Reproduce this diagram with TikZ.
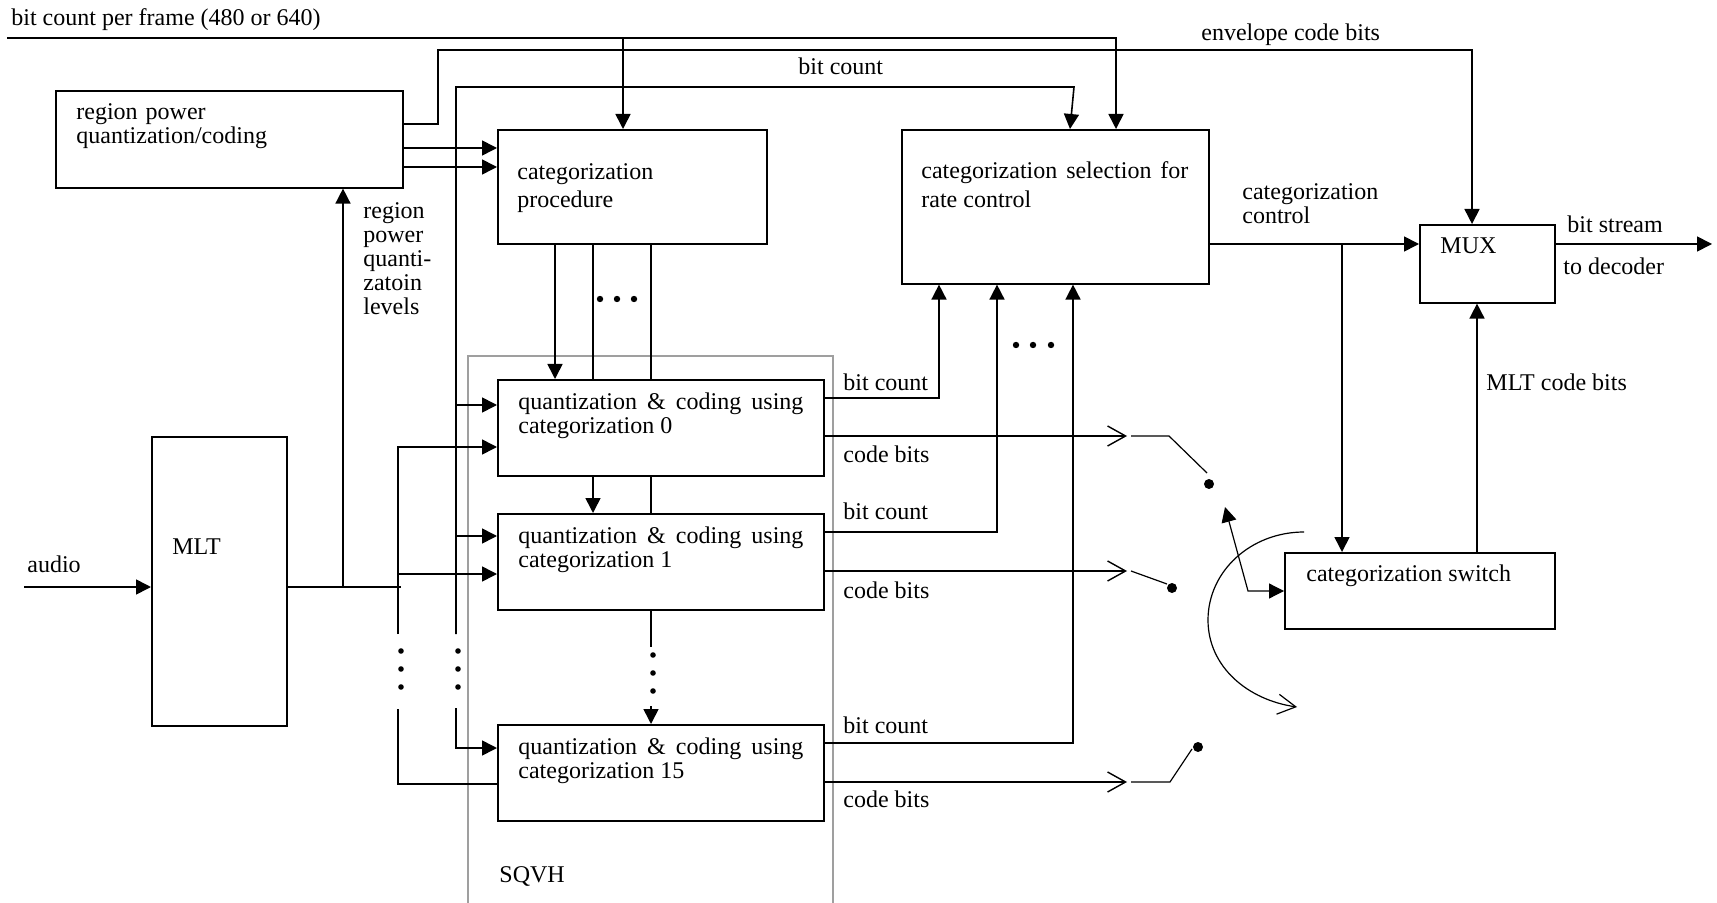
\documentclass[tikz,border=0pt]{standalone}
\usepackage{fontspec}
\setmainfont{Liberation Serif}
\usetikzlibrary{arrows.meta,positioning}
\tikzset{
    box/.style={rectangle, draw, line width=0.8pt, anchor=north west, inner sep=0pt},
    txt/.style={anchor=base west, inner sep=0pt, align=left, font=\fontsize{12}{12}\selectfont},
    mtxt/.style={txt, text width=#1},
    jtxt/.style={txt, align=justify, text width=#1},
    wire/.style={line width=0.8pt},
    arrow/.style={-{Triangle[length=7.5pt,width=7.5pt]}, line width=0.8pt},
    darrow/.style={{Triangle[length=7.5pt,width=7.5pt]}-{Triangle[length=7.5pt,width=7.5pt]}, line width=0.6pt},
    barb/.style={-{Straight Barb[length=9pt,width=10pt]}, line width=0.7pt},
    contact/.style={line width=0.6pt}
}

\begin{document}
\begin{tikzpicture}[x=0.5pt, y=-0.5pt]
    \useasboundingbox (0,0) rectangle (1717,903);
    \draw[gray!75, line width=0.6pt] (468,905) |- (833,356) -- (833,905);

    \node[box, minimum width=173.5pt, minimum height=48.5pt] (rpq) at (55,90) {};
    \node[box, minimum width=134.5pt, minimum height=57pt] (proc) at (497,129) {};
    \node[box, minimum width=153.5pt, minimum height=77pt] (sel) at (901,129) {};
    \node[box, minimum width=67.5pt, minimum height=39pt] (mux) at (1419,224) {};
    \node[box, minimum width=67.5pt, minimum height=144.5pt] (mlt) at (151,436) {};
    \node[box, minimum width=163pt, minimum height=48pt] (q0) at (497,379) {};
    \node[box, minimum width=163pt, minimum height=48pt] (q1) [below=18.2pt of q0] {};
    \node[box, minimum width=163pt, minimum height=48pt] (q15) [below=56.7pt of q1] {};
    \node[box, minimum width=135pt, minimum height=38pt] (sw) at (1284,552) {};

    \node[txt] (frametxt) at (11,26) {bit count per frame (480 or 640)};
    \node[txt] (envtxt) at (1201,41) {envelope code bits};
    \node[txt] (bctxt) at (798,75) {bit count};
    \node[mtxt=150pt] (rpqtxt) at (76,120) {region power\\quantization/coding};
    \node[mtxt=120pt, font=\fontsize{12}{14}\selectfont] (proctxt) at (517,180) {categorization\\procedure};
    \node[mtxt=60pt] (lvltxt) at (363,219) {region\\power\\quanti-\\zatoin\\levels};
    \node[jtxt=133.5pt, font=\fontsize{12}{14.5}\selectfont] (seltxt) at (921,179) {categorization selection for rate control};
    \node[mtxt=120pt] (ctrltxt) at (1242,200) {categorization\\control};
    \node[txt] (muxtxt) at (1440,254) {MUX};
    \node[txt] (streamtxt) at (1567,233) {bit stream};
    \node[txt] (dectxt) at (1563,275) {to decoder};
    \node[txt] (mltbits) at (1486,391) {MLT code bits};
    \node[txt] (audiotxt) at (27,572) {audio};
    \node[txt] (mlttxt) at (172,554) {MLT};
    \node[jtxt=142.5pt] (q0txt) at (518,409) {quantization \& coding using categorization 0};
    \node[jtxt=142.5pt] (q1txt) at (518,543) {quantization \& coding using categorization 1};
    \node[jtxt=142.5pt] (q15txt) at (518,754) {quantization \& coding using categorization 15};
    \node[txt] (bc0) at (843,391) {bit count};
    \node[txt] (cb0) at (843,462) {code bits};
    \node[txt] (bc1) at (843,519) {bit count};
    \node[txt] (cb1) at (843,598) {code bits};
    \node[txt] (bc15) at (843,733) {bit count};
    \node[txt] (cb15) at (843,807) {code bits};
    \node[txt] (swtxt) at (1306,581) {categorization switch};
    \node[txt] (sqvh) at (499,882) {SQVH};

    \coordinate (frame) at (7,38);
    \coordinate (audio) at (24,587);
    \coordinate (out) at (1712,244);

    \draw[arrow] (frame) -| (sel.north -| 1116,0);
    \draw[arrow] (623,38) -- (proc.north -| 623,0);
    \draw[arrow] (rpq.east |- 0,124) -| (438,50) -| (mux.north -| 1472,0);
    \draw[arrow] (456,634) |- (1074,87) -- (sel.north -| 1070,0);
    \draw[arrow] (rpq.east |- 0,148) -- (proc.west |- 0,148);
    \draw[arrow] (rpq.east |- 0,167) -- (proc.west |- 0,167);

    \draw[arrow] (audio) -- (mlt.west |- audio);
    \draw[wire] (mlt.east |- audio) -- (401,587);
    \draw[arrow] (343,587) -- (rpq.south -| 343,0);
    \draw[arrow] (398,634) |- (q0.west |- 0,447);
    \draw[arrow] (398,574) -- (q1.west |- 0,574);
    \draw[wire] (398,709) |- (q15.west |- 0,784);
    \draw[arrow] (456,405) -- (q0.west |- 0,405);
    \draw[arrow] (456,536) -- (q1.west |- 0,536);
    \draw[arrow] (456,708) |- (q15.west |- 0,748);

    \draw[arrow] (proc.south -| 555,0) -- (q0.north -| 555,0);
    \draw[wire] (proc.south -| 593,0) -- (q0.north -| 593,0);
    \draw[wire] (proc.south -| 651,0) -- (q0.north -| 651,0);
    \draw[arrow] (q0.south -| 593,0) -- (q1.north -| 593,0);
    \draw[wire] (q0.south -| 651,0) -- (q1.north -| 651,0);
    \draw[wire] (q1.south -| 651,0) -- (651,647);
    \draw[arrow] (651,706) -- (q15.north -| 651,0);

    \draw[arrow] (q0.east |- 0,398) -| (sel.south -| 939,0);
    \draw[arrow] (q1.east |- 0,532) -| (sel.south -| 997,0);
    \draw[arrow] (q15.east |- 0,743) -| (sel.south -| 1073,0);
    \draw[barb] (q0.east |- 0,436) -- (1127,436);
    \draw[barb] (q1.east |- 0,571) -- (1127,571);
    \draw[barb] (q15.east |- 0,782) -- (1127,782);

    \draw[contact] (1131,436) -- (1169,436) -- (1207,473);
    \draw[contact] (1131,571) -- (1167,584);
    \draw[contact] (1131,782) -- (1170,782) -- (1192,749);
    \fill (1209,484) circle (2.5pt);
    \fill (1172,588) circle (2.5pt);
    \fill (1198,747) circle (2.5pt);

    \draw[barb, line width=0.6pt] (1304,532) .. controls (1251,532) and (1208,571) .. (1208,620)
        .. controls (1208,667) and (1248,700) .. (1297,707);
    \draw[darrow] (1225,507) -- (1248,591) -- (sw.west |- 0,591);

    \draw[arrow] (sel.east |- 0,244) -- (mux.west |- 0,244);
    \draw[arrow] (1342,244) -- (sw.north -| 1342,0);
    \draw[arrow] (mux.east |- out) -- (out);
    \draw[arrow] (sw.north -| 1477,0) -- (mux.south -| 1477,0);

    \foreach \y in {651,669,687} {\fill (401,\y) circle (1.4pt); \fill (458,\y) circle (1.4pt);}
    \foreach \y in {655,673,691} \fill (653,\y) circle (1.4pt);
    \foreach \x in {1016,1033,1051} \fill (\x,345) circle (1.6pt);
    \foreach \x in {600,617,634} \fill (\x,299) circle (1.6pt);
\end{tikzpicture}
\end{document}
